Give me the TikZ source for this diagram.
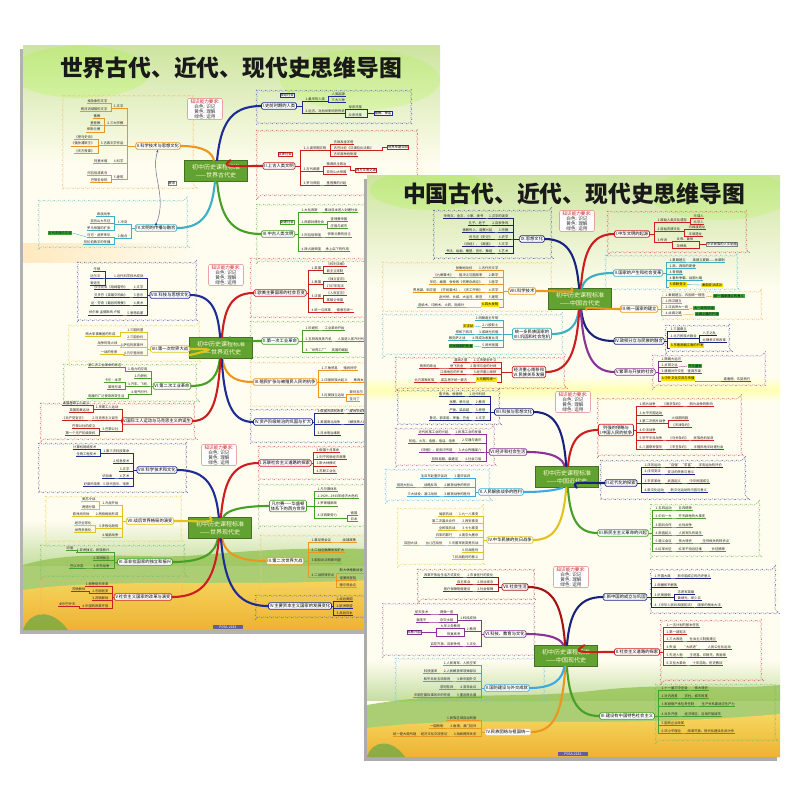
\documentclass[tikz,border=0pt]{standalone}
\usepackage{fontspec}
\setmainfont{Noto Sans CJK SC}
\usetikzlibrary{decorations.pathmorphing,calc,arrows.meta}
\definecolor{bluec}{RGB}{30,45,150}
\definecolor{darkbluec}{RGB}{25,35,125}
\definecolor{redc}{RGB}{205,30,30}
\definecolor{darkredc}{RGB}{165,20,20}
\definecolor{greenc}{RGB}{70,160,40}
\definecolor{tealc}{RGB}{60,175,195}
\definecolor{lbluec}{RGB}{60,170,225}
\definecolor{orangec}{RGB}{235,150,30}
\definecolor{yellowc}{RGB}{225,195,30}
\definecolor{purplec}{RGB}{140,50,150}
\definecolor{cgreen}{RGB}{98,162,48}
\definecolor{cream}{RGB}{255,253,240}
\definecolor{topgreen}{RGB}{205,228,160}
\definecolor{hillgreen}{RGB}{150,195,85}
\definecolor{ground}{RGB}{238,178,50}
\definecolor{groundtop}{RGB}{246,214,95}
\newcommand\lf{\fontsize{3.3}{3.7}\selectfont}
\newcommand\bff{\fontsize{4.3}{4.9}\selectfont}
\newcommand\cf{\fontsize{6}{7.5}\selectfont}
\newcommand\kf{\fontsize{4.6}{5}\selectfont}
\tikzset{
 leaf/.style={font=\lf, inner sep=0.5pt, text=black!85, append after command={(\tikzlastnode.south west) edge[draw=#1, line width=0.35pt] (\tikzlastnode.south east)}},
 sub/.style={draw=#1, line width=0.35pt},
 bnode/.style={draw=#1, line width=0.7pt, fill=white, rounded corners=1.5pt, font=\bff, inner sep=1.3pt, text=black, align=center},
 branch/.style={draw=#1, line width=2.1pt, line cap=round},
 region/.style={draw=#1, line width=0.5pt, dash pattern=on 1.3pt off 1pt, decorate, decoration={bumps, segment length=10pt, amplitude=1.2pt}},
 cnode/.style={fill=cgreen, draw=cgreen!70!black, line width=0.6pt, font=\cf, text=yellow!15, align=center, inner sep=2pt, minimum width=63pt, minimum height=21pt},
 know/.style={draw=redc!60, line width=0.4pt, fill=white, rounded corners=2pt, align=center, font=\kf, inner xsep=3pt, inner ysep=1pt, text=black!80},
 tag/.style={draw=#1, fill=white, font=\lf, inner sep=0.7pt, line width=0.35pt},
 ytag/.style={fill=yellow!85!orange, font=\lf, inner sep=0.7pt},
 gtag/.style={fill=green!55!black!75, font=\lf, inner sep=0.7pt, text=black},
 plabel/.style={fill=gray!75!blue, text=white, font=\fontsize{3.5}{4}\selectfont, inner sep=0.8pt, minimum width=30pt},
 title/.style={font=\fontsize{22.8}{24}\selectfont\bfseries, text=black!90},
}
\newcommand\rlist[6]{\foreach \yy/\LT in {#6}{\node[leaf=#3,anchor=south west] (#1-\yy) at (#5,\yy) {\LT}; \draw[sub=#3] (#2) -| (#4,\yy) -- (#1-\yy.south west);}}
\newcommand\llist[6]{\foreach \yy/\LT in {#6}{\node[leaf=#3,anchor=south east] (#1-\yy) at (#5,\yy) {\LT}; \draw[sub=#3] (#2) -| (#4,\yy) -- (#1-\yy.south east);}}
\newcommand\brcurve[3]{\draw[branch=#1] let \p1=(#2.center), \p2=(#3) in (#2) .. controls ({\x1+0.1*(\x2-\x1)},{\y1+0.7*(\y2-\y1)}) and ({\x1+0.3*(\x2-\x1)},\y2) .. (#3);}
\begin{document}
\begin{tikzpicture}[x=1pt,y=-1pt]
\useasboundingbox (0,0) rectangle (800,800);
\fill[white] (0,0) rectangle (800,800);
%================ BACK POSTER =================
\fill[gray!60] (20,49) rectangle (437,634);
\begin{scope}
\clip (23,46) rectangle (440,630);
\fill[cream] (23,46) rectangle (440,630);
\shade[top color=topgreen, bottom color=cream] (23,46) rectangle (440,165);
\fill[green!45!yellow, opacity=.18] (80,72) ellipse (70 and 26);
\fill[green!45!yellow, opacity=.15] (360,80) ellipse (80 and 30);
\shade[left color=yellow!30!orange!25, right color=cream] (23,243) rectangle (200,262);
\shade[top color=cream, bottom color=hillgreen!55] (23,520) rectangle (440,565);
\fill[hillgreen, opacity=.8] (23,565) .. controls (80,548) and (140,560) .. (200,555) .. controls (260,550) and (320,545) .. (440,552) -- (440,630) -- (23,630) -- cycle;
\shade[top color=groundtop, bottom color=ground] (23,590) .. controls (120,576) and (250,590) .. (440,576) -- (440,630) -- (23,630) -- cycle;
\fill[green!50!black!70, opacity=.6] (23,630) .. controls (30,610) and (52,608) .. (68,630) -- cycle;
\end{scope}
\node[title] (TA) at (231,68) {世界古代、近代、现代史思维导图};
\node[plabel] (PA) at (228,627) {P05A-2181};
%---------- World ancient
\draw[region=bluec!70] (256,90) rectangle (412,124);
\draw[region=redc!70] (256,130) rectangle (418,196);
\draw[region=greenc!70] (256,204) rectangle (432,262);
\draw[region=tealc!70] (38,200) rectangle (188,248);
\draw[region=orangec!60] (62,95) rectangle (194,189);
\node[cnode] (WA) at (216,171) {初中历史课程标准\\——世界古代史};
\node[know] (KA) at (205,109) {\textcolor{redc}{知识能力要求:}\\白色: 识记\\黄色: 理解\\绿色: 运用};
\node[bnode=bluec] (WA1) at (279,106) {I.史前时期的人类};
\node[bnode=redc] (WA2) at (279,166) {II.上古人类文明};
\node[bnode=greenc] (WA3) at (278,234) {III.中古人类文明};
\node[bnode=tealc] (WA4) at (156,228) {IV.文明的传播与融合};
\node[bnode=orangec] (WA5) at (158,146) {V.科学技术与思想文化};
\brcurve{bluec}{WA}{WA1.west}
\brcurve{redc}{WA}{WA2.west}
\brcurve{greenc}{WA}{WA3.west}
\brcurve{tealc}{WA}{WA4.east}
\brcurve{orangec}{WA}{WA5.east}
\node[tag=bluec] (a1s) at (287,95) {原始社会};
\rlist{a1}{WA1.east}{bluec}{302}{305}{101/1.最早的人类,113/2.远古、对后世影响的传说}
\rlist{a1a}{a1-101.south east}{bluec}{328}{331}{96/人类起源,102/三大人种}
\rlist{a1b}{a1-113.south east}{bluec}{345}{348}{109/母系氏族,117/父系氏族}
\node[tag=bluec] (a1t) at (383,113) {图腾、神话};
\draw[sub=bluec] (a1b-109.south east) -| (367,117) -- (a1b-117.south east);
\draw[sub=bluec] (367,113) -- (a1t.west);
\node[tag=redc] (a2s) at (285,154) {奴隶社会};
\rlist{a2}{WA2.east}{redc}{300}{303}{150/1.人类早期文明,171/2.古代希腊,185/3.罗马帝国}
\rlist{a2a}{a2-150.south east}{redc}{330}{333}{144/古埃及金字塔,150/古巴比伦《汉谟拉比法典》,156/古印度种姓制度}
\node[tag=redc] (a2t) at (398,147) {世界早期文明};
\draw[sub=redc] (a2a-150.south east) -| (382,147) -- (a2t.west);
\rlist{a2b}{a2-171.south east}{redc}{323}{326}{166/雅典民主政治,174/亚历山大帝国}
\node[tag=redc] (a2u) at (366,170) {西方文明之源};
\draw[sub=redc] (a2b-166.south east) -| (350,170) -- (a2u.west);
\rlist{a2c}{a2-185.south east}{redc}{323}{326}{185/基督教的兴起}
\node[tag=greenc] (a3s) at (287,222) {封建社会};
\rlist{a3}{WA3.east}{greenc}{298}{301}{212/1.大化改新,224/2.西欧封建社会,237/3.阿拉伯帝国,251/4.拜占庭帝国}
\rlist{a3a}{a3-212.south east}{greenc}{321}{324}{212/推动日本进入封建社会}
\rlist{a3b}{a3-224.south east}{greenc}{327}{330}{221/查理曼帝国,228/庄园与城市}
\rlist{a3c}{a3-237.south east}{greenc}{324}{327}{237/伊斯兰教的创立}
\rlist{a3d}{a3-251.south east}{greenc}{322}{325}{251/承上启下的作用}
\llist{a4}{WA4.west}{tealc}{131}{128}{224/1.冲突,238/2.融合}
\llist{a4a}{a4-224.south west}{tealc}{114}{111}{216/希波战争,223/亚历山大东征,230/罗马帝国的扩张}
\llist{a4b}{a4-238.south west}{tealc}{114}{111}{237/马可·波罗来华,244/阿拉伯数字的传播}
\node[gtag] (a4t) at (60,233) {古代东西方交流};
\draw[sub=tealc] (a4t.east) -- (a4b-237.south west);
\draw[-{Stealth[length=3pt]}, line width=0.45pt, draw=bluec!40!gray] (WA4.north) .. controls (168,196) and (150,175) .. (WA5.south);
\fill[bluec] (WA4.north) circle (1.1);
\node[tag=gray] (lxa) at (172,183) {联系};
\llist{a5}{WA5.west}{orangec}{127}{124}{108/1.文字,125/2.三大宗教,145/3.古典文学作品,163/4.科学,179/5.建筑}
\llist{a5a}{a5-108.south west}{orangec}{111}{108}{103/埃及象形文字,111/两河流域楔形文字}
\llist{a5b}{a5-125.south west}{orangec}{104}{101}{118/佛教,125/基督教,132/伊斯兰教}
\llist{a5c}{a5-145.south west}{orangec}{98}{95}{139/《荷马史诗》,146/《俄狄浦斯王》,153/《天方夜谭》}
\llist{a5d}{a5-163.south west}{orangec}{111}{108}{163/阿基米德}
\llist{a5e}{a5-179.south west}{orangec}{111}{108}{175/阿拉伯清真寺,182/巴黎圣母院}
%---------- World modern
\draw[region=redc!70] (250,258) rectangle (372,318);
\draw[region=greenc!70] (250,321) rectangle (372,358);
\draw[region=orangec!60] (250,362) rectangle (372,407);
\draw[region=bluec!70] (250,409) rectangle (372,443);
\draw[region=bluec!70] (77,262) rectangle (197,321);
\draw[region=yellowc!70] (68,325) rectangle (200,362);
\draw[region=greenc!70] (63,364) rectangle (197,402);
\draw[region=redc!70] (40,403) rectangle (195,440);
\node[cnode] (WM) at (221,348) {初中历史课程标准\\——世界近代史};
\node[know] (KM) at (226,275) {\textcolor{redc}{知识能力要求:}\\白色: 识记\\黄色: 理解\\绿色: 运用};
\node[bnode=redc] (WM1) at (280,293) {I.欧美主要国家的社会巨变};
\node[bnode=greenc] (WM2) at (280,341) {II.第一次工业革命};
\node[bnode=orangec] (WM3) at (285,382) {III.殖民扩张与被殖民人民的抗争};
\node[bnode=bluec] (WM4) at (283,422) {IV.资产阶级统治的巩固与扩大};
\node[bnode=bluec] (WM8) at (170,295) {VIII.科技与思想文化};
\node[bnode=yellowc] (WM7) at (170,349) {VII.第一次世界大战};
\node[bnode=greenc] (WM6) at (172,386) {VI.第二次工业革命};
\node[bnode=redc] (WM5) at (157,421) {V.国际工人运动与马克思主义的诞生};
\brcurve{redc}{WM}{WM1.west}
\brcurve{greenc}{WM}{WM2.west}
\brcurve{orangec}{WM}{WM3.west}
\brcurve{bluec}{WM}{WM4.west}
\brcurve{bluec}{WM}{WM8.east}
\brcurve{yellowc}{WM}{WM7.east}
\brcurve{greenc}{WM}{WM6.east}
\brcurve{redc}{WM}{WM5.east}
\rlist{m1}{WM1.east}{redc}{308}{311}{270/1.英国,284/2.美国,298/3.法国,312/4.统一与改革}
\rlist{m1a}{m1-270.south east}{redc}{323}{326}{266/《权利法案》,273/君主立宪制}
\rlist{m1b}{m1-284.south east}{redc}{323}{326}{281/《独立宣言》,288/1787年宪法}
\rlist{m1c}{m1-298.south east}{redc}{323}{326}{295/《人权宣言》,302/拿破仑帝国}
\rlist{m1d}{m1-312.south east}{redc}{333}{336}{312/德意志统一}
\rlist{m2}{WM2.east}{greenc}{302}{305}{330/1.珍妮机,341/2.瓦特改良蒸汽机,352/3.“世界工厂”}
\rlist{m2a}{m2-330.south east}{greenc}{321}{324}{330/工业革命开始}
\rlist{m2b}{m2-341.south east}{greenc}{334}{337}{341/人类进入蒸汽时代}
\rlist{m2c}{m2-352.south east}{greenc}{328}{331}{352/英国的崛起}
\rlist{m3}{WM3.east}{orangec}{318}{321}{370/1.三角贸易,382/2.印度民族大起义,397/3.拉美独立运动}
\rlist{m3a}{m3-370.south east}{orangec}{340}{343}{370/殖民掠夺}
\rlist{m3b}{m3-382.south east}{orangec}{350}{353}{382/章西女王}
\rlist{m3c}{m3-397.south east}{orangec}{346}{349}{394/玻利瓦尔,401/圣马丁}
\rlist{m4}{WM4.east}{bluec}{314}{317}{413/1.俄国农奴制改革,424/2.美国南北战争,435/3.日本明治维新}
\rlist{m4a}{m4-413.south east}{bluec}{346}{349}{413/废除农奴制}
\rlist{m4b}{m4-424.south east}{bluec}{343}{346}{424/《解放黑人奴隶宣言》}
\llist{m8}{WM8.west}{bluec}{147}{144}{278/1.近代科学技术成就,289/2.文学,297/3.音乐,305/4.美术,315/5.思想启蒙}
\llist{m8a}{m8-278.south west}{bluec}{105}{101}{271/牛顿,278/达尔文,285/爱迪生}
\llist{m8b}{m8-289.south west}{bluec}{131}{128}{289/莎士比亚《哈姆雷特》}
\llist{m8c}{m8-297.south west}{bluec}{131}{128}{297/贝多芬《英雄交响曲》}
\llist{m8d}{m8-305.south west}{bluec}{131}{128}{305/达·芬奇《最后的晚餐》}
\llist{m8e}{m8-315.south west}{bluec}{124}{121}{315/伏尔泰 孟德斯鸠 卢梭}
\llist{m7}{WM7.west}{yellowc}{147}{144}{332/1.三国同盟,339/2.三国协约,347/3.萨拉热窝事件,355/4.凡尔登战役}
\llist{m7a}{m7-332.south west}{yellowc}{120}{116}{336/两大军事集团的形成}
\llist{m7b}{m7-347.south west}{yellowc}{121}{118}{345/战争的导火线}
\llist{m7c}{m7-355.south west}{yellowc}{124}{118}{354/一战的性质}
\llist{m6}{WM6.west}{greenc}{151}{148}{371/1.电力的应用,378/2.内燃机,386/3.汽车、飞机,394/4.电气时代}
\llist{m6a}{m6-371.south west}{greenc}{125}{122}{367/第二次工业革命的标志}
\llist{m6b}{m6-386.south west}{greenc}{125}{122}{382/卡尔·本茨,389/莱特兄弟}
\llist{m6c}{m6-394.south west}{greenc}{128}{125}{398/电器的广泛使用改变生活}
\llist{m5}{WM5.west}{redc}{122}{119}{409/1.早期工人运动,420/2.马克思主义诞生,431/3.巴黎公社}
\llist{m5a}{m5-409.south west}{redc}{93}{90}{405/法国里昂工人起义,412/英国宪章运动}
\llist{m5b}{m5-420.south west}{redc}{89}{86}{420/《共产党宣言》}
\llist{m5c}{m5-431.south west}{redc}{99}{96}{428/巴黎公社的成立,435/第一个无产阶级政权}
%---------- World contemporary
\draw[region=redc!70] (258,446) rectangle (372,480);
\draw[region=greenc!70] (258,484) rectangle (372,527);
\draw[region=orangec!60] (260,535) rectangle (372,590);
\draw[region=bluec!70] (255,595) rectangle (372,618);
\draw[region=bluec!70] (38,443) rectangle (187,493);
\draw[region=yellowc!70] (45,496) rectangle (182,542);
\draw[region=greenc!70] (40,545) rectangle (185,577);
\draw[region=orangec!70] (40,580) rectangle (183,614);
\node[cnode] (WC) at (220,528) {初中历史课程标准\\——世界现代史};
\node[know] (KC) at (219,455) {\textcolor{redc}{知识能力要求:}\\白色: 识记\\黄色: 理解\\绿色: 运用};
\node[bnode=redc] (WC1) at (285,463) {I.苏联社会主义道路的探索};
\node[bnode=greenc] (WC2) at (288,506) {凡尔赛——华盛顿\\体系下的西方世界};
\node[bnode=orangec] (WC3) at (285,561) {III.第二次世界大战};
\node[bnode=bluec] (WC4) at (300,606) {IV.主要资本主义国家的发展变化};
\node[bnode=bluec] (WC8) at (157,470) {VIII.科学技术和文化};
\node[bnode=yellowc] (WC7) at (150,521) {VII.战后世界格局的演变};
\node[bnode=greenc] (WC6) at (145,562) {VI.亚非拉国家的独立和振兴};
\node[bnode=redc] (WC5) at (143,597) {V.社会主义国家的改革与演变};
\brcurve{redc}{WC}{WC1.west}
\brcurve{greenc}{WC}{WC2.west}
\brcurve{orangec}{WC}{WC3.west}
\brcurve{bluec}{WC}{WC4.west}
\brcurve{bluec}{WC}{WC8.east}
\brcurve{yellowc}{WC}{WC7.east}
\brcurve{greenc}{WC}{WC6.east}
\brcurve{redc}{WC}{WC5.east}
\rlist{c1}{WC1.east}{redc}{313}{316}{452/1.俄国十月革命,459/2.列宁的新经济政策,466/3.斯大林模式,473/4.苏联工业化}
\rlist{c2}{WC2.east}{greenc}{314}{317}{491/1.凡尔赛体系,498/2.1929—1933年经济大危机,506/3.罗斯福新政,518/4.法西斯势力}
\rlist{c2a}{c2-518.south east}{greenc}{347}{350}{515/德国,521/日本}
\rlist{c3}{WC3.east}{orangec}{308}{311}{542/1.慕尼黑会议,552/2.二战全面爆发和扩大,563/3.国际反法西斯同盟,577/4.二战的转折点}
\rlist{c3a}{c3-542.south east}{orangec}{339}{342}{542/绥靖政策}
\rlist{c3b}{c3-577.south east}{orangec}{336}{339}{573/斯大林格勒战役,580/诺曼底登陆,587/雅尔塔会议}
\rlist{c4}{WC4.east}{bluec}{333}{336}{601/1.战后美国,608/2.欧洲联盟,615/3.战后日本}
\llist{c8}{WC8.west}{bluec}{133}{130}{453/1.第三次科技革命,463/2.信息技术,471/3.文学,478/4.艺术,486/5.现代音乐、电影}
\llist{c8a}{c8-453.south west}{bluec}{100}{97}{449/计算机网络技术,456/生物工程技术}
\llist{c8b}{c8-478.south west}{bluec}{116}{113}{478/毕加索}
\llist{c8c}{c8-486.south west}{bluec}{104}{101}{486/好莱坞电影}
\llist{c7}{WC7.west}{yellowc}{122}{119}{505/1.冷战开始,516/2.两极格局形成,528/3.多极化趋势,537/4.局部战争}
\llist{c7a}{c7-505.south west}{yellowc}{99}{96}{501/美苏冷战,509/两德分裂}
\llist{c7b}{c7-516.south west}{yellowc}{93}{90}{516/欧洲共同体}
\llist{c7c}{c7-528.south west}{yellowc}{95}{92}{525/经济全球化,532/世界多极化}
\llist{c6}{WC6.west}{greenc}{114}{110}{552/1.亚洲独立、民族振兴,560/2.非洲独立,568/3.中东战争}
\llist{c6a}{c6-552.south west}{greenc}{77}{74}{550/印度}
\llist{c6b}{c6-568.south west}{greenc}{87}{84}{568/巴以冲突}
\llist{c5}{WC5.west}{redc}{112}{109}{586/1.赫鲁晓夫改革,593/2.东欧剧变,600/3.苏联解体,608/4.中国的改革开放}
\llist{c5a}{c5-593.south west}{redc}{89}{86}{591/苏联解体}
\llist{c5b}{c5-608.south west}{redc}{79}{76}{606/戈尔巴乔夫}
%================ FRONT POSTER =================
\fill[gray!65] (364,179) rectangle (777,761);
\begin{scope}
\clip (367,175) rectangle (780,757);
\fill[cream] (367,175) rectangle (780,757);
\shade[top color=topgreen, bottom color=cream] (367,175) rectangle (780,290);
\fill[green!45!yellow, opacity=.18] (430,190) ellipse (60 and 20);
\fill[green!45!yellow, opacity=.15] (720,195) ellipse (70 and 25);
\shade[top color=cream, bottom color=yellow!30] (367,376) rectangle (780,390);
\shade[top color=yellow!30, bottom color=cream] (367,390) rectangle (780,402);
\shade[top color=cream, bottom color=hillgreen!55] (367,660) rectangle (780,700);
\fill[hillgreen, opacity=.8] (367,705) .. controls (450,690) and (520,700) .. (600,690) .. controls (680,682) and (730,690) .. (780,685) -- (780,757) -- (367,757) -- cycle;
\shade[top color=groundtop, bottom color=ground] (367,728) .. controls (480,714) and (600,730) .. (780,714) -- (780,757) -- (367,757) -- cycle;
\fill[green!50!black!70, opacity=.6] (367,757) .. controls (372,740) and (392,738) .. (405,757) -- cycle;
\end{scope}
\node[title] (TB) at (574,194) {中国古代、近代、现代史思维导图};
\node[plabel] (PB) at (573,754) {P05A-2181};
%---------- Chinese ancient
\draw[region=redc!70] (607,211) rectangle (747,253);
\draw[region=tealc!70] (605,255) rectangle (738,290);
\draw[region=orangec!60] (662,291) rectangle (762,320);
\draw[region=darkbluec!70] (665,325) rectangle (730,352);
\draw[region=purplec!70] (652,355) rectangle (766,386);
\draw[region=darkbluec!70] (433,210) rectangle (552,259);
\draw[region=orangec!60] (382,262) rectangle (552,312);
\draw[region=tealc!70] (382,314) rectangle (563,355);
\draw[region=redc!70] (395,357) rectangle (565,389);
\node[cnode] (CA) at (580,299) {初中历史课程标准\\——中国古代史};
\node[know] (KCA) at (577,221) {\textcolor{redc}{知识能力要求:}\\白色: 识记\\黄色: 理解\\绿色: 运用};
\node[bnode=redc] (CA1) at (632,234) {I.中华文明的起源};
\node[bnode=tealc] (CA2) at (638,273) {II.国家的产生和社会变革};
\node[bnode=orangec] (CA3) at (639,309) {III.统一国家的建立};
\node[bnode=darkbluec] (CA4) at (639,341) {IV.政权分立与民族的融合};
\node[bnode=purplec] (CA5) at (635,372) {V.繁荣与开放的社会};
\node[bnode=darkbluec] (CA9) at (532,239) {IX.思想文化};
\node[bnode=orangec] (CA8) at (522,291) {VIII.科学技术};
\node[bnode=tealc] (CA7) at (532,334) {统一多民族国家的\\VII.巩固和社会危机};
\node[bnode=redc] (CA6) at (529,372) {经济重心南移和\\VI.民族关系发展};
\brcurve{redc}{CA}{CA1.west}
\brcurve{tealc}{CA}{CA2.west}
\brcurve{orangec}{CA}{CA3.west}
\brcurve{darkbluec}{CA}{CA4.west}
\brcurve{purplec}{CA}{CA5.west}
\brcurve{darkbluec}{CA}{CA9.east}
\brcurve{orangec}{CA}{CA8.east}
\brcurve{tealc}{CA}{CA7.east}
\brcurve{redc}{CA}{CA6.east}
\rlist{h1}{CA1.east}{redc}{654}{657}{222/1.原始人类文化遗存,231/2.原始农耕文化,242/3.传说}
\rlist{h1a}{h1-222.south east}{redc}{690}{693}{218/元谋人,224/北京人}
\rlist{h1b}{h1-231.south east}{redc}{684}{688}{229/河姆渡遗址,236/半坡遗址}
\rlist{h1c}{h1-242.south east}{redc}{672}{676}{241/炎帝、黄帝,248/尧舜禹}
\node[tag=gray] (h1t) at (722,244) {中华民族的人文始祖};
\draw[sub=redc] (h1c-241.south east) -| (699,248) -- (h1c-248.south east);
\draw[sub=redc] (699,244) -- (h1t.west);
\rlist{h2}{CA2.east}{tealc}{666}{669}{262/1.夏朝建立,268/2.商、西周的更替,274/3.青铜器,280/4.春秋争霸、战国七雄}
\node[ytag, anchor=south west] (h2y) at (669,287) {5.商鞅变法};
\draw[sub=tealc] (666,280) -- (666,287) -- (h2y.south west);
\rlist{h2a}{h2-262.south east}{tealc}{689}{692}{262/禹建立夏朝——世袭制}
\node[ytag] (h2g) at (712,285) {秦国变法成功};
\draw[sub=tealc] (h2y.east) -- (h2g.west);
\rlist{h3}{CA3.east}{orangec}{661}{665}{297/1.秦朝建立、巩固统一措施,303/2.西汉建立,309/3.汉武帝大一统,315/4.丝绸之路}
\node[gtag] (h3g1) at (729,296) {统一国家建立的意义};
\draw[sub=orangec] (h3-297.south east) -- (h3g1.west);
\node[gtag] (h3g2) at (704,308) {大一统的巩固};
\draw[sub=orangec] (h3-309.south east) -- (h3g2.west);
\node[gtag] (h3g3) at (707,314) {丝绸之路的开通};
\draw[sub=orangec] (h3-315.south east) -- (h3g3.west);
\rlist{h4}{CA4.east}{darkbluec}{667}{670}{331/1.三国鼎立,338/2.北方民族大融合}
\node[ytag, anchor=south west] (h4y) at (670,348) {3.东晋南朝江南的开发};
\draw[sub=darkbluec] (667,338) -- (667,348) -- (h4y.south west);
\rlist{h4a}{h4-338.south east}{darkbluec}{699}{702}{335/八王之乱,342/北魏孝文帝改革}
\rlist{h5}{CA5.east}{purplec}{658}{661}{361/1.隋朝大运河,367/2.贞观之治,373/3.唐朝对外交往}
\node[ytag, anchor=south west] (h5y) at (661,381) {4.中外文化交流与传播};
\draw[sub=purplec] (658,373) -- (658,381) -- (h5y.south west);
\node[gtag] (h5g) at (695,366) {开元盛世};
\draw[sub=purplec] (h5-367.south east) -- (h5g.west);
\rlist{h5a}{h5-373.south east}{purplec}{684}{687}{373/鉴真东渡}
\rlist{h5b}{h5y.south east}{purplec}{720}{723}{381/遣唐使、玄奘西行}
\llist{h9}{CA9.west}{darkbluec}{513}{509}{218/1.汉字的演变,225/2.百家争鸣,232/3.宗教,239/4.史学,246/5.文学,253/6.艺术}
\llist{h9a}{h9-218.south west}{darkbluec}{487}{484}{218/甲骨文、金文、小篆、隶书}
\llist{h9b}{h9-225.south west}{darkbluec}{489}{486}{225/孔子、老子}
\llist{h9c}{h9-232.south west}{darkbluec}{496}{493}{232/佛教传入、道教兴起}
\llist{h9d}{h9-239.south west}{darkbluec}{496}{493}{239/司马迁《史记》}
\llist{h9e}{h9-246.south west}{darkbluec}{496}{493}{246/《诗经》、《离骚》}
\llist{h9f}{h9-253.south west}{darkbluec}{496}{493}{253/书法、绘画、雕塑、音乐、舞蹈}
\llist{h8}{CA8.west}{orangec}{503}{499}{270/1.古代天文学,277/2.数学,284/3.医学,292/4.农学,299/5.建筑}
\node[ytag, anchor=south east] (h8y) at (499,307) {6.四大发明};
\draw[sub=orangec] (503,299) -- (503,307) -- (h8y.south east);
\llist{h8a}{h8-270.south west}{orangec}{476}{473}{270/张衡地动仪}
\llist{h8b}{h8-277.south west}{orangec}{486}{483}{277/祖冲之与圆周率}
\llist{h8bb}{h8b-277.south west}{orangec}{457}{454}{277/《九章算术》}
\llist{h8c}{h8-284.south west}{orangec}{486}{483}{284/张仲景《伤寒杂病论》}
\llist{h8cc}{h8c-284.south west}{orangec}{450}{447}{284/华佗、扁鹊}
\llist{h8d}{h8-292.south west}{orangec}{486}{483}{292/《齐民要术》、《天工开物》}
\llist{h8dd}{h8d-292.south west}{orangec}{440}{437}{292/贾思勰、宋应星}
\llist{h8e}{h8-299.south west}{orangec}{486}{483}{299/赵州桥、长城、大运河、故宫}
\llist{h8f}{h8y.south west}{orangec}{468}{465}{307/造纸术、印刷术、火药、指南针}
\llist{h7}{CA7.west}{tealc}{503}{499}{320/1.明朝君主专制,327/2.八股取士,334/3.戚继光抗倭,340/4.郑成功收复台湾,347/5.闭关锁国}
\node[ytag, anchor=east] (h7y) at (474,326) {文字狱};
\draw[sub=tealc] (h7-327.south west) -- (h7y.east);
\llist{h7a}{h7-334.south west}{tealc}{476}{473}{334/郑和下西洋}
\llist{h7b}{h7-340.south west}{tealc}{469}{466}{340/雅克萨之战}
\node[gtag] (h7g) at (461,346) {闭关锁国的危害};
\draw[sub=tealc] (h7-347.south west) -- (h7g.east);
\llist{h6}{CA6.west}{redc}{501}{497}{362/1.辽宋夏金并立,368/2.南宋与金的对峙,374/3.经济重心南移}
\node[ytag, anchor=south east] (h6y) at (497,382) {4.元朝的统一};
\draw[sub=redc] (501,374) -- (501,382) -- (h6y.south east);
\llist{h6a}{h6-362.south west}{redc}{471}{468}{362/澶渊之盟}
\llist{h6b}{h6-368.south west}{redc}{467}{464}{368/岳飞抗金}
\llist{h6bb}{h6b-368.south west}{redc}{440}{437}{368/两宋的政治}
\llist{h6c}{h6-374.south west}{redc}{467}{464}{374/江南地区的开发}
\llist{h6d}{h6y.south west}{redc}{471}{468}{382/成吉思汗统一蒙古}
\llist{h6dd}{h6d-382.south west}{redc}{438}{435}{382/北方游牧民族}
%---------- Chinese modern
\draw[region=redc!70] (597,398) rectangle (742,456);
\draw[region=darkbluec!70] (600,460) rectangle (746,500);
\draw[region=greenc!70] (650,504) rectangle (760,557);
\draw[region=yellowc!70] (397,508) rectangle (484,565);
\draw[region=lbluec!70] (385,469) rectangle (490,501);
\draw[region=purplec!70] (395,428) rectangle (495,466);
\draw[region=darkbluec!70] (397,390) rectangle (500,425);
\node[cnode] (CM) at (567,477) {初中历史课程标准\\——中国近代史};
\node[know] (KCM) at (573,402) {\textcolor{redc}{知识能力要求:}\\白色: 识记\\黄色: 理解\\绿色: 运用};
\node[bnode=redc] (CM1) at (616,430) {列强的侵略与\\I.中国人民的抗争};
\node[bnode=darkbluec] (CM2) at (621,483) {II.近代化的探索};
\node[bnode=greenc] (CM3) at (623,533) {III.新民主主义革命的兴起};
\node[bnode=yellowc] (CM4) at (510,540) {IV.中华民族的抗日战争};
\node[bnode=lbluec] (CM5) at (501,492) {V.人民解放战争的胜利};
\node[bnode=purplec] (CM6) at (508,452) {VI.经济和社会生活};
\node[bnode=darkbluec] (CM7) at (514,412) {VII.科技与思想文化};
\brcurve{redc}{CM}{CM1.west}
\brcurve{darkbluec}{CM}{CM2.west}
\brcurve{greenc}{CM}{CM3.west}
\brcurve{yellowc}{CM}{CM4.east}
\brcurve{lbluec}{CM}{CM5.east}
\brcurve{purplec}{CM}{CM6.east}
\brcurve{darkbluec}{CM}{CM7.east}
\rlist{n1}{CM1.east}{redc}{636}{639}{406/1.鸦片战争,415/2.太平天国运动,423/3.第二次鸦片战争,432/4.中法战争,440/5.甲午中日战争,449/6.八国联军侵华}
\rlist{n1a}{n1-406.south east}{redc}{659}{662}{406/《南京条约》}
\rlist{n1aa}{n1a-406.south east}{redc}{686}{689}{406/鸦片战争的影响}
\rlist{n1c}{n1-423.south east}{redc}{668}{671}{420/火烧圆明园,427/《天津条约》}
\rlist{n1e}{n1-440.south east}{redc}{665}{668}{440/《马关条约》}
\rlist{n1ee}{n1e-440.south east}{redc}{690}{693}{440/民族危机加深}
\rlist{n1f}{n1-449.south east}{redc}{665}{668}{449/《辛丑条约》}
\rlist{n1ff}{n1f-449.south east}{redc}{690}{693}{449/半殖民地半封建社会}
\rlist{n2}{CM2.east}{darkbluec}{641}{644}{467/1.洋务运动,474/2.戊戌变法,483/3.辛亥革命,492/4.新文化运动}
\rlist{n2a}{n2-467.south east}{darkbluec}{664}{667}{467/“自强”“求富”}
\rlist{n2aa}{n2a-467.south east}{darkbluec}{695}{698}{467/洋务运动的评价}
\rlist{n2b}{n2-474.south east}{darkbluec}{664}{667}{474/变法的失败与意义}
\rlist{n2c}{n2-483.south east}{darkbluec}{664}{667}{483/武昌起义}
\rlist{n2cc}{n2c-483.south east}{darkbluec}{686}{689}{483/中华民国成立}
\rlist{n2d}{n2-492.south east}{darkbluec}{667}{670}{492/新文化运动的内容与意义}
\rlist{n3}{CM3.east}{greenc}{652}{655}{510/1.五四运动,518/2.中共一大,527/3.国共合作,535/4.南昌起义,543/5.遵义会议,551/6.红军长征}
\rlist{n3a}{n3-510.south east}{greenc}{675}{678}{510/五四精神}
\rlist{n3b}{n3-518.south east}{greenc}{675}{678}{518/开天辟地的大事变}
\rlist{n3c}{n3-527.south east}{greenc}{675}{678}{527/北伐战争}
\rlist{n3d}{n3-535.south east}{greenc}{675}{678}{535/人民军队的诞生}
\rlist{n3e}{n3-543.south east}{greenc}{675}{678}{543/伟大转折}
\rlist{n3ee}{n3e-543.south east}{greenc}{699}{702}{543/生死攸关的转折点}
\rlist{n3f}{n3-551.south east}{greenc}{675}{678}{551/红军不怕远征难}
\rlist{n3ff}{n3f-551.south east}{greenc}{708}{711}{551/长征精神}
\llist{n4}{CM4.west}{yellowc}{483}{479}{516/1.九一八事变,523/2.西安事变,530/3.七七事变,537/4.南京大屠杀,545/5.中国军民英勇抗战,552/6.抗战胜利,559/7.抗战胜利的意义}
\llist{n4a}{n4-516.south west}{yellowc}{456}{453}{516/局部抗战}
\llist{n4b}{n4-523.south west}{yellowc}{459}{456}{523/第二次国共合作}
\llist{n4c}{n4-530.south west}{yellowc}{459}{456}{530/全民族抗战}
\llist{n4d}{n4-537.south west}{yellowc}{456}{453}{537/日军的罪行}
\llist{n4e}{n4-545.south west}{yellowc}{446}{443}{545/台儿庄战役}
\llist{n4ee}{n4e-545.south west}{yellowc}{421}{418}{545/百团大战}
\llist{n5}{CM5.west}{lbluec}{475}{471}{478/1.重庆谈判,487/2.解放战争的转折,496/3.解放战争的胜利}
\llist{n5a}{n5-478.south west}{lbluec}{451}{448}{478/毛泽东赴重庆谈判}
\llist{n5b}{n5-487.south west}{lbluec}{441}{438}{487/战略反攻}
\llist{n5bb}{n5b-487.south west}{lbluec}{417}{414}{487/挺进大别山}
\llist{n5c}{n5-496.south west}{lbluec}{441}{438}{496/三大战役、渡江战役}
\llist{n6}{CM6.west}{purplec}{486}{482}{434/1.民族工业的发展,443/2.交通与通讯,452/3.大众传播媒介,461/4.社会习俗}
\llist{n6a}{n6-434.south west}{purplec}{452}{449}{434/近代民族工业的兴起}
\llist{n6b}{n6-443.south west}{purplec}{459}{456}{443/轮船、火车、电报、电话、电影}
\llist{n6c}{n6-452.south west}{purplec}{456}{453}{452/《申报》、商务印书馆}
\llist{n6d}{n6-461.south west}{purplec}{462}{459}{461/剪辫易服、废缠足}
\llist{n7}{CM7.west}{darkbluec}{490}{486}{396/1.近代科技,404/2.教育,412/3.思想,420/4.文学}
\llist{n7a}{n7-396.south west}{darkbluec}{466}{463}{396/詹天佑、侯德榜}
\llist{n7b}{n7-404.south west}{darkbluec}{473}{470}{404/张謇、蔡元培}
\llist{n7c}{n7-412.south west}{darkbluec}{473}{470}{412/严复、梁启超}
\llist{n7d}{n7-420.south west}{darkbluec}{473}{470}{420/鲁迅、郭沫若、茅盾、巴金}
%---------- Chinese contemporary
\draw[region=darkbluec!70] (650,569) rectangle (776,614);
\draw[region=redc!70] (660,620) rectangle (762,681);
\draw[region=greenc!70] (655,684) rectangle (776,741);
\draw[region=lbluec!70] (395,658) rectangle (545,702);
\draw[region=purplec!70] (382,603) rectangle (535,656);
\draw[region=darkredc!70] (417,569) rectangle (535,600);
\node[cnode] (CC) at (566,656) {初中历史课程标准\\——中国现代史};
\node[know] (KCC) at (571,577) {\textcolor{redc}{知识能力要求:}\\白色: 识记\\黄色: 理解\\绿色: 运用};
\node[bnode=darkbluec] (CC1) at (625,597) {I.新中国的成立与巩固};
\node[bnode=redc] (CC2) at (637,652) {II.社会主义道路的探索};
\node[bnode=greenc] (CC3) at (627,716) {III.建设有中国特色社会主义};
\node[bnode=orangec!60] (CC4) at (508,732) {IV.民族团结与祖国统一};
\node[bnode=lbluec] (CC5) at (507,688) {V.国防建设与外交成就};
\node[bnode=purplec] (CC6) at (505,634) {VI.科技、教育与文化};
\node[bnode=darkredc] (CC7) at (515,587) {VII.社会生活};
\brcurve{darkbluec}{CC}{CC1.west}
\brcurve{redc}{CC}{CC2.west}
\brcurve{greenc}{CC}{CC3.west}
\brcurve{orangec}{CC}{CC4.east}
\brcurve{lbluec}{CC}{CC5.east}
\brcurve{purplec}{CC}{CC6.east}
\brcurve{darkredc}{CC}{CC7.east}
\rlist{p1}{CC1.east}{darkbluec}{651}{654}{578/1.开国大典,587/2.西藏和平解放,597/3.抗美援朝,607/4.《中华人民共和国宪法》}
\rlist{p1a}{p1-578.south east}{darkbluec}{674}{677}{578/新中国成立的历史意义}
\rlist{p1c}{p1-597.south east}{darkbluec}{674}{677}{594/志愿军英雄,600/黄继光、邱少云}
\rlist{p1d}{p1-607.south east}{darkbluec}{694}{697}{607/国家的根本大法}
\rlist{p2}{CC2.east}{redc}{663}{666}{627/1.一五计划的基本任务,634/2.第一部宪法,641/3.三大改造,649/4.失误,657/5.先进人物,665/6.文化大革命}
\rlist{p2c}{p2-641.south east}{redc}{686}{689}{641/社会主义制度建立}
\rlist{p2d}{p2-649.south east}{redc}{679}{682}{649/“大跃进”}
\rlist{p2dd}{p2d-649.south east}{redc}{704}{707}{649/人民公社化运动}
\rlist{p2e}{p2-657.south east}{redc}{686}{689}{657/王进喜、邓稼先、焦裕禄}
\rlist{p2f}{p2-665.south east}{redc}{689}{692}{665/十年浩劫、历史教训}
\rlist{p3}{CC3.east}{greenc}{658}{661}{690/1.十一届三中全会,698/2.对内改革,706/3.家庭联产承包责任制,716/4.对外开放,725/5.国有企业改革,733/6.邓小平理论}
\rlist{p3a}{p3-690.south east}{greenc}{691}{694}{690/伟大转折}
\rlist{p3b}{p3-698.south east}{greenc}{681}{684}{698/农村、城市改革}
\rlist{p3c}{p3-706.south east}{greenc}{698}{701}{706/生产关系要适应生产力}
\rlist{p3d}{p3-716.south east}{greenc}{681}{684}{716/经济特区、沿海开放城市}
\rlist{p3f}{p3-733.south east}{greenc}{684}{687}{733/改革开放、现代化建设总设计师}
\llist{p4}{CC4.west}{orangec}{481}{477}{720/1.民族区域自治制度,728/2.香港、澳门回归,736/3.海峡两岸关系}
\llist{p4b}{p4-728.south west}{orangec}{447}{444}{728/一国两制}
\llist{p4c}{p4-736.south west}{orangec}{451}{448}{736/经济文化交流密切}
\llist{p4cc}{p4c-736.south west}{orangec}{420}{417}{736/统一是大势所趋}
\llist{p5}{CC5.west}{lbluec}{481}{477}{665/1.人民海军、人民空军,673/2.人民解放军导弹部队,681/3.新中国外交,689/4.亚非会议,697/5.重返联合国}
\llist{p5b}{p5-673.south west}{lbluec}{441}{438}{673/科技强军}
\llist{p5c}{p5-681.south west}{lbluec}{454}{451}{681/和平共处五项原则}
\llist{p5d}{p5-689.south west}{lbluec}{457}{454}{689/求同存异}
\llist{p5e}{p5-697.south west}{lbluec}{454}{451}{697/中国在国际事务中的作用}
\llist{p6}{CC6.west}{purplec}{481}{477}{620/1.科技成就,631/2.教育,646/3.文化}
\llist{p6a}{p6-620.south west}{purplec}{457}{454}{614/两弹一星,622/杂交水稻}
\llist{p6aa}{p6a-614.south west}{purplec}{432}{429}{614/航天技术}
\llist{p6ab}{p6a-622.south west}{purplec}{430}{427}{622/袁隆平}
\llist{p6b}{p6-631.south west}{purplec}{464}{461}{628/九年义务教育,636/恢复高考}
\node[tag=purplec] (p6t) at (414,632) {科教兴国};
\draw[sub=purplec] (p6b-628.south west) -| (436,636) -- (p6b-636.south west);
\draw[sub=purplec] (436,632) -- (p6t.east);
\llist{p6c}{p6-646.south west}{purplec}{464}{461}{646/百花齐放、百家争鸣}
\llist{p7}{CC7.west}{darkredc}{498}{494}{577/1.衣食住行的变化,584/2.就业观念,591/3.社会保障}
\llist{p7a}{p7-577.south west}{darkredc}{464}{461}{577/改革开放后生活方式变化}
\llist{p7b}{p7-584.south west}{darkredc}{474}{471}{584/自主择业}
\llist{p7c}{p7-591.south west}{darkredc}{474}{471}{591/医疗保障制度建设}
\end{tikzpicture}
\end{document}
